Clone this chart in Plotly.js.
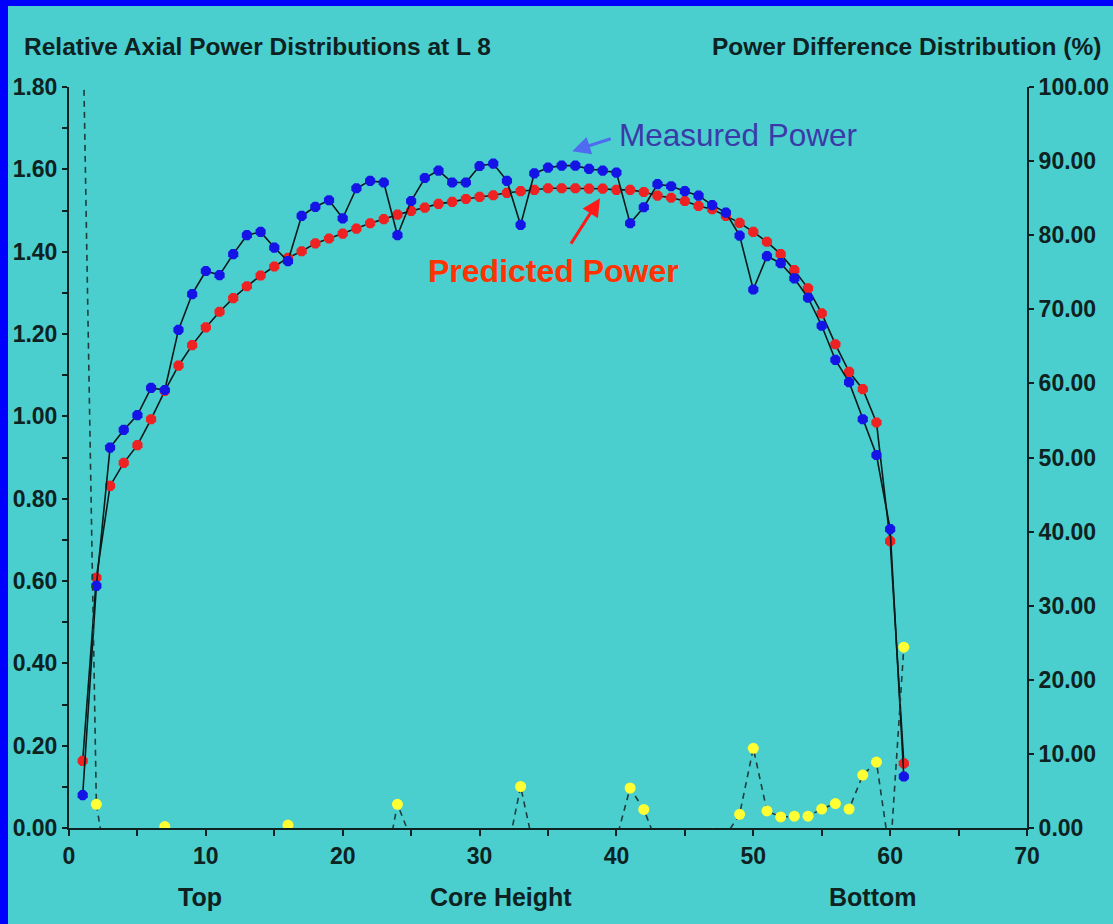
<!DOCTYPE html>
<html>
<head>
<meta charset="utf-8">
<script src="https://cdn.plot.ly/plotly-3.0.1.min.js"></script>
<style>
  html, body { margin: 0; padding: 0; background: #0000FF; width: 1113px; height: 924px; overflow: hidden; }
  #chart { position: absolute; left: 8px; top: 6px; width: 1105px; height: 918px; }
</style>
</head>
<body>
<div id="chart"></div>
<script>
// Core height positions (node index 1..61)
const nodes = [1,2,3,4,5,6,7,8,9,10,11,12,13,14,15,16,17,18,19,20,21,22,23,24,25,26,27,28,29,30,
  31,32,33,34,35,36,37,38,39,40,41,42,43,44,45,46,47,48,49,50,51,52,53,54,55,56,57,58,59,60,61];

// Measured relative power (blue)
const measuredPower = [0.080,0.588,0.924,0.967,1.003,1.069,1.064,1.210,1.297,1.353,
  1.343,1.394,1.440,1.448,1.410,1.377,1.487,1.509,1.525,1.481,
  1.554,1.572,1.568,1.440,1.523,1.579,1.597,1.568,1.568,1.608,
  1.614,1.572,1.465,1.590,1.604,1.609,1.609,1.601,1.597,1.592,
  1.469,1.508,1.564,1.559,1.547,1.536,1.513,1.495,1.439,1.308,
  1.389,1.372,1.335,1.288,1.220,1.137,1.083,0.993,0.906,0.726,0.125];

// Predicted relative power (red)
const predictedPower = [0.163,0.608,0.831,0.887,0.930,0.993,1.062,1.123,1.173,1.216,
  1.254,1.287,1.316,1.342,1.364,1.385,1.401,1.420,1.432,1.444,
  1.456,1.469,1.479,1.490,1.499,1.507,1.516,1.521,1.528,1.533,
  1.537,1.543,1.547,1.550,1.554,1.554,1.554,1.553,1.553,1.550,
  1.550,1.545,1.536,1.531,1.523,1.511,1.503,1.487,1.470,1.448,
  1.424,1.394,1.355,1.311,1.250,1.175,1.108,1.066,0.985,0.697,0.157];

// Power difference distribution in % (yellow, right axis; negative values fall below the visible range)
const powerDifference = [110,3.2,-8,-8.3,-7.3,-7.1,0.2,-7.2,-9.6,-10.1,
  -6.6,-7.7,-8.6,-7.3,-3.3,0.4,-5.8,-5.9,-6.1,-2.5,
  -6.3,-6.6,-6.5,3.2,-1.5,-4.6,-5.1,-3.0,-2.6,-4.7,
  -4.8,-3.5,5.6,-3.0,-3.1,-3.4,-3.4,-3.0,-2.8,-1.5,
  5.4,2.5,-2.2,-1.8,-1.6,-1.6,-0.7,-1.0,1.85,10.75,
  2.3,1.5,1.6,1.6,2.55,3.3,2.55,7.15,8.9,-3.8,24.4];

const xTickVals = [0,10,20,30,40,50,60,70];
const leftTickVals = [0,0.2,0.4,0.6,0.8,1.0,1.2,1.4,1.6,1.8];
const rightTickVals = [0,10,20,30,40,50,60,70,80,90,100];

const ink = '#0e2222';
const font = 'Liberation Sans, Arial, sans-serif';
const tickFont = {family: font, size: 23, color: ink, weight: 'bold'};

const traces = [
  {
    x: nodes, y: powerDifference, yaxis: 'y2', type: 'scatter', mode: 'lines+markers',
    line: {color: '#1d3d3d', width: 1.6, dash: '6px,5px'},
    marker: {color: '#FFFF33', size: 11, symbol: 'circle'},
    cliponaxis: true, hoverinfo: 'skip', showlegend: false
  },
  {
    x: nodes, y: predictedPower, type: 'scatter', mode: 'lines+markers',
    line: {color: '#0a1a1a', width: 1.6},
    marker: {color: '#EE2222', size: 11, symbol: 'octagon'},
    cliponaxis: true, showlegend: false
  },
  {
    x: nodes, y: measuredPower, type: 'scatter', mode: 'lines+markers',
    line: {color: '#0a1a1a', width: 1.6},
    marker: {color: '#1414E6', size: 11, symbol: 'octagon'},
    cliponaxis: true, showlegend: false
  }
];

const layout = {
  width: 1105, height: 918,
  margin: {l: 61, r: 86, t: 81, b: 96},
  paper_bgcolor: '#4BCECE', plot_bgcolor: '#4BCECE',
  font: {family: font, color: ink, size: 22},
  showlegend: false,
  xaxis: {
    range: [0, 70], tickvals: xTickVals, ticktext: xTickVals.map(String),
    ticks: 'outside', ticklen: 6, tickwidth: 2, tickcolor: ink,
    minor: {dtick: 5, tick0: 0, ticks: 'outside', ticklen: 6, tickwidth: 2, tickcolor: ink},
    showline: true, linecolor: ink, linewidth: 2, showgrid: false, zeroline: false,
    tickfont: tickFont
  },
  yaxis: {
    range: [0, 1.8], tickvals: leftTickVals, tickformat: '.2f',
    ticks: 'outside', ticklen: 5, tickwidth: 2, tickcolor: ink,
    minor: {dtick: 0.1, tick0: 0, ticks: 'outside', ticklen: 5, tickwidth: 2, tickcolor: ink},
    showline: true, linecolor: ink, linewidth: 2, showgrid: false, zeroline: false,
    tickfont: tickFont
  },
  yaxis2: {
    range: [0, 100], overlaying: 'y', side: 'right', tickvals: rightTickVals, tickformat: '.2f',
    ticks: 'outside', ticklen: 5, tickwidth: 2, tickcolor: ink,
    showline: true, linecolor: ink, linewidth: 2, showgrid: false, zeroline: false,
    tickfont: tickFont
  },
  annotations: [
    {text: '<b>Relative Axial Power Distributions at L 8</b>', xref: 'paper', yref: 'paper',
     x: -0.049, y: 1.054, xanchor: 'left', yanchor: 'middle', showarrow: false,
     font: {family: font, size: 24.5, color: ink}},
    {text: '<b>Power Difference Distribution (%)</b>', xref: 'paper', yref: 'paper',
     x: 1.079, y: 1.054, xanchor: 'right', yanchor: 'middle', showarrow: false,
     font: {family: font, size: 24.5, color: ink}},
    {text: '<b>Top</b>', xref: 'x', yref: 'paper', x: 9.6, y: -0.093, xanchor: 'center', yanchor: 'middle',
     showarrow: false, font: {family: font, size: 25, color: ink}},
    {text: '<b>Core Height</b>', xref: 'x', yref: 'paper', x: 31.6, y: -0.093, xanchor: 'center', yanchor: 'middle',
     showarrow: false, font: {family: font, size: 25, color: ink}},
    {text: '<b>Bottom</b>', xref: 'x', yref: 'paper', x: 58.7, y: -0.093, xanchor: 'center', yanchor: 'middle',
     showarrow: false, font: {family: font, size: 25, color: ink}},
    {text: 'Measured Power', xref: 'x', yref: 'y', x: 40.06, y: 1.683, xanchor: 'left', yanchor: 'middle',
     showarrow: false, font: {family: font, size: 31.5, color: '#3A3AA8'}},
    {text: '<b>Predicted Power</b>', xref: 'x', yref: 'y', x: 35.4, y: 1.353, xanchor: 'center', yanchor: 'middle',
     showarrow: false, font: {family: font, size: 32, color: '#FF3300'}},
    {text: '', xref: 'x', yref: 'y', x: 36.77, y: 1.644, ax: 40, ay: -13, showarrow: true,
     arrowhead: 2, arrowsize: 1.2, arrowwidth: 3, arrowcolor: '#4F6BF0'},
    {text: '', xref: 'x', yref: 'y', x: 38.8, y: 1.530, ax: -30, ay: 47, showarrow: true,
     arrowhead: 2, arrowsize: 1.2, arrowwidth: 3, arrowcolor: '#FF1A1A'}
  ]
};

Plotly.newPlot('chart', traces, layout, {displayModeBar: false, staticPlot: true});
</script>
</body>
</html>
